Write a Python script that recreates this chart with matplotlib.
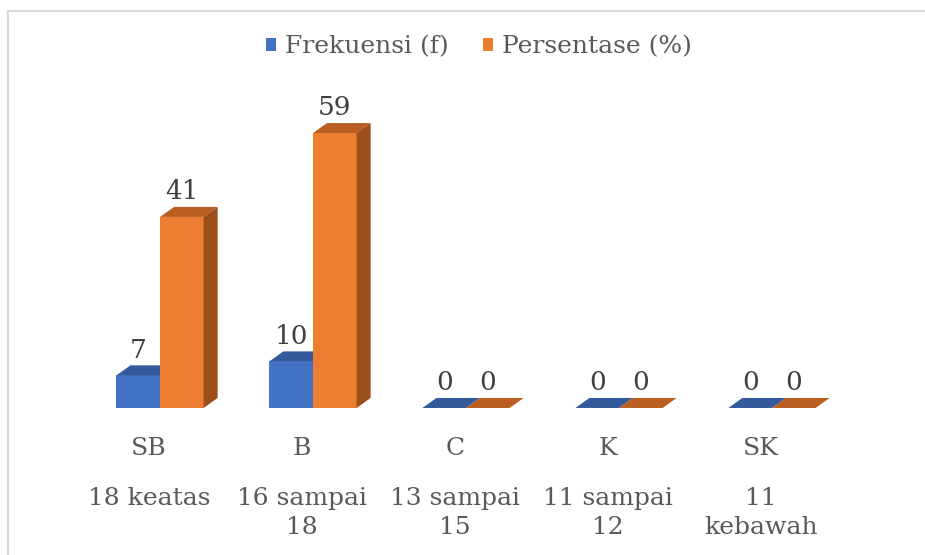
import matplotlib
matplotlib.use("Agg")
import matplotlib.pyplot as plt
from matplotlib.patches import Polygon, Patch
from matplotlib.lines import Line2D
import numpy as np

plt.rcParams['font.family'] = ['DejaVu Serif']

# data
codes = ["SB", "B", "C", "K", "SK"]
ranges = ["18 keatas", "16 sampai\n18", "13 sampai\n15", "11 sampai\n12", "11\nkebawah"]
frekuensi = [7, 10, 0, 0, 0]
persentase = [41, 59, 0, 0, 0]
series_names = ["Frekuensi (f)", "Persentase (%)"]

front = ["#4472C4", "#ED7D31"]
top_c = ["#345A9C", "#B95E20"]
side_c = ["#2F528F", "#9C4E1B"]

fig = plt.figure(figsize=(9.25, 5.55), dpi=100)
ax = fig.add_axes([0.0903, 0.2649, 0.827, 0.5877])
ax.set_xlim(-0.5, 4.5)
ax.set_ylim(0, 70)
ax.axis("off")

x = np.arange(len(codes))
w = 0.285
dx, dy = 0.0915, 2.15   # fake 3d depth

for k, vals in enumerate([frekuensi, persentase]):
    xs = x - w / 2 + k * w
    z = 2 + 2 * k
    ax.bar(xs, vals, width=w, color=front[k], linewidth=0, zorder=z)
    for xi, v in zip(xs, vals):
        l, r = xi - w / 2, xi + w / 2
        ax.add_patch(Polygon([(l, v), (r, v), (r + dx, v + dy), (l + dx, v + dy)],
                             closed=True, facecolor=top_c[k], linewidth=0, zorder=z + 1))
        if v > 0:
            ax.add_patch(Polygon([(r, 0), (r, v), (r + dx, v + dy), (r + dx, dy)],
                                 closed=True, facecolor=side_c[k], linewidth=0, zorder=z + 1))
        ax.annotate(str(v), (xi, v + dy), xytext=(0, 2), textcoords="offset points",
                    ha="center", va="bottom", fontsize=19, color="#404040", zorder=10)

for xi, c, rg in zip(x, codes, ranges):
    ax.annotate(c, (xi - 0.072, 0), xytext=(0, -29), textcoords="offset points",
                ha="center", va="center", fontsize=18, color="#595959", annotation_clip=False)
    ax.annotate(rg, (xi - 0.072, 0), xytext=(0, -57), textcoords="offset points",
                ha="center", va="top", fontsize=18, color="#595959", linespacing=1.3,
                multialignment="center", annotation_clip=False)

handles = [Patch(facecolor=front[0]), Patch(facecolor=front[1])]
fig.legend(handles, series_names, loc="center", bbox_to_anchor=(479 / 925, 1 - 47 / 555),
           ncol=2, frameon=False, fontsize=18, handlelength=0.4, handleheight=0.4,
           handletextpad=0.35, columnspacing=1.4, labelcolor="#595959")

# chart border (left and top)
fig.add_artist(Line2D([8 / 925, 8 / 925], [0, 1 - 11 / 555], color="#D9D9D9", lw=1.5))
fig.add_artist(Line2D([8 / 925, 1], [1 - 11 / 555, 1 - 11 / 555], color="#D9D9D9", lw=1.5))

fig.savefig("out.png", dpi=100)
